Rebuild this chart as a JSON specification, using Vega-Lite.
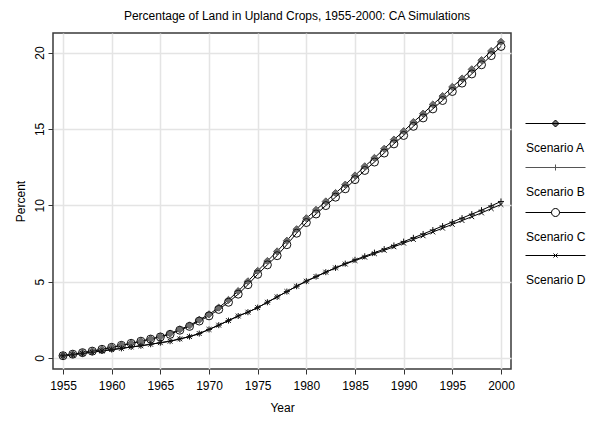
{
"$schema":"https://vega.github.io/schema/vega-lite/v6.json",
"width":458,"height":336,
"autosize":{"type":"none"},
"padding":{"left":53,"top":33,"right":90,"bottom":61},
"background":"white",
"config":{"font":"Liberation Sans","view":{"stroke":"#3a3a3a","strokeWidth":1.5}},
"title":{"text":"Percentage of Land in Upland Crops, 1955-2000: CA Simulations","fontSize":12,"fontWeight":"normal","font":"Liberation Sans","color":"#000","offset":10,"dx":15},
"data":{"values":[
{"year":1955,"scenario":"Scenario A","value":0.15},{"year":1956,"scenario":"Scenario A","value":0.25},{"year":1957,"scenario":"Scenario A","value":0.35},{"year":1958,"scenario":"Scenario A","value":0.45},{"year":1959,"scenario":"Scenario A","value":0.57},{"year":1960,"scenario":"Scenario A","value":0.7},{"year":1961,"scenario":"Scenario A","value":0.83},{"year":1962,"scenario":"Scenario A","value":0.96},{"year":1963,"scenario":"Scenario A","value":1.1},{"year":1964,"scenario":"Scenario A","value":1.24},{"year":1965,"scenario":"Scenario A","value":1.4},{"year":1966,"scenario":"Scenario A","value":1.6},{"year":1967,"scenario":"Scenario A","value":1.87},{"year":1968,"scenario":"Scenario A","value":2.13},{"year":1969,"scenario":"Scenario A","value":2.5},{"year":1970,"scenario":"Scenario A","value":2.86},{"year":1971,"scenario":"Scenario A","value":3.3},{"year":1972,"scenario":"Scenario A","value":3.8},{"year":1973,"scenario":"Scenario A","value":4.38},{"year":1974,"scenario":"Scenario A","value":5.02},{"year":1975,"scenario":"Scenario A","value":5.7},{"year":1976,"scenario":"Scenario A","value":6.35},{"year":1977,"scenario":"Scenario A","value":6.98},{"year":1978,"scenario":"Scenario A","value":7.68},{"year":1979,"scenario":"Scenario A","value":8.43},{"year":1980,"scenario":"Scenario A","value":9.15},{"year":1981,"scenario":"Scenario A","value":9.7},{"year":1982,"scenario":"Scenario A","value":10.25},{"year":1983,"scenario":"Scenario A","value":10.8},{"year":1984,"scenario":"Scenario A","value":11.35},{"year":1985,"scenario":"Scenario A","value":11.95},{"year":1986,"scenario":"Scenario A","value":12.55},{"year":1987,"scenario":"Scenario A","value":13.1},{"year":1988,"scenario":"Scenario A","value":13.7},{"year":1989,"scenario":"Scenario A","value":14.3},{"year":1990,"scenario":"Scenario A","value":14.85},{"year":1991,"scenario":"Scenario A","value":15.45},{"year":1992,"scenario":"Scenario A","value":16.0},{"year":1993,"scenario":"Scenario A","value":16.6},{"year":1994,"scenario":"Scenario A","value":17.15},{"year":1995,"scenario":"Scenario A","value":17.75},{"year":1996,"scenario":"Scenario A","value":18.3},{"year":1997,"scenario":"Scenario A","value":18.9},{"year":1998,"scenario":"Scenario A","value":19.5},{"year":1999,"scenario":"Scenario A","value":20.1},{"year":2000,"scenario":"Scenario A","value":20.7},
{"year":1955,"scenario":"Scenario B","value":0.15},{"year":1956,"scenario":"Scenario B","value":0.22},{"year":1957,"scenario":"Scenario B","value":0.3},{"year":1958,"scenario":"Scenario B","value":0.38},{"year":1959,"scenario":"Scenario B","value":0.46},{"year":1960,"scenario":"Scenario B","value":0.55},{"year":1961,"scenario":"Scenario B","value":0.63},{"year":1962,"scenario":"Scenario B","value":0.72},{"year":1963,"scenario":"Scenario B","value":0.8},{"year":1964,"scenario":"Scenario B","value":0.9},{"year":1965,"scenario":"Scenario B","value":1.0},{"year":1966,"scenario":"Scenario B","value":1.1},{"year":1967,"scenario":"Scenario B","value":1.25},{"year":1968,"scenario":"Scenario B","value":1.4},{"year":1969,"scenario":"Scenario B","value":1.6},{"year":1970,"scenario":"Scenario B","value":1.87},{"year":1971,"scenario":"Scenario B","value":2.15},{"year":1972,"scenario":"Scenario B","value":2.45},{"year":1973,"scenario":"Scenario B","value":2.75},{"year":1974,"scenario":"Scenario B","value":3.0},{"year":1975,"scenario":"Scenario B","value":3.3},{"year":1976,"scenario":"Scenario B","value":3.65},{"year":1977,"scenario":"Scenario B","value":4.0},{"year":1978,"scenario":"Scenario B","value":4.35},{"year":1979,"scenario":"Scenario B","value":4.7},{"year":1980,"scenario":"Scenario B","value":5.03},{"year":1981,"scenario":"Scenario B","value":5.33},{"year":1982,"scenario":"Scenario B","value":5.62},{"year":1983,"scenario":"Scenario B","value":5.9},{"year":1984,"scenario":"Scenario B","value":6.18},{"year":1985,"scenario":"Scenario B","value":6.43},{"year":1986,"scenario":"Scenario B","value":6.66},{"year":1987,"scenario":"Scenario B","value":6.9},{"year":1988,"scenario":"Scenario B","value":7.13},{"year":1989,"scenario":"Scenario B","value":7.37},{"year":1990,"scenario":"Scenario B","value":7.62},{"year":1991,"scenario":"Scenario B","value":7.87},{"year":1992,"scenario":"Scenario B","value":8.12},{"year":1993,"scenario":"Scenario B","value":8.38},{"year":1994,"scenario":"Scenario B","value":8.64},{"year":1995,"scenario":"Scenario B","value":8.9},{"year":1996,"scenario":"Scenario B","value":9.16},{"year":1997,"scenario":"Scenario B","value":9.42},{"year":1998,"scenario":"Scenario B","value":9.68},{"year":1999,"scenario":"Scenario B","value":9.96},{"year":2000,"scenario":"Scenario B","value":10.25},
{"year":1955,"scenario":"Scenario C","value":0.15},{"year":1956,"scenario":"Scenario C","value":0.25},{"year":1957,"scenario":"Scenario C","value":0.35},{"year":1958,"scenario":"Scenario C","value":0.45},{"year":1959,"scenario":"Scenario C","value":0.57},{"year":1960,"scenario":"Scenario C","value":0.7},{"year":1961,"scenario":"Scenario C","value":0.83},{"year":1962,"scenario":"Scenario C","value":0.96},{"year":1963,"scenario":"Scenario C","value":1.1},{"year":1964,"scenario":"Scenario C","value":1.24},{"year":1965,"scenario":"Scenario C","value":1.38},{"year":1966,"scenario":"Scenario C","value":1.55},{"year":1967,"scenario":"Scenario C","value":1.82},{"year":1968,"scenario":"Scenario C","value":2.07},{"year":1969,"scenario":"Scenario C","value":2.42},{"year":1970,"scenario":"Scenario C","value":2.76},{"year":1971,"scenario":"Scenario C","value":3.18},{"year":1972,"scenario":"Scenario C","value":3.65},{"year":1973,"scenario":"Scenario C","value":4.18},{"year":1974,"scenario":"Scenario C","value":4.8},{"year":1975,"scenario":"Scenario C","value":5.48},{"year":1976,"scenario":"Scenario C","value":6.1},{"year":1977,"scenario":"Scenario C","value":6.7},{"year":1978,"scenario":"Scenario C","value":7.42},{"year":1979,"scenario":"Scenario C","value":8.17},{"year":1980,"scenario":"Scenario C","value":8.87},{"year":1981,"scenario":"Scenario C","value":9.43},{"year":1982,"scenario":"Scenario C","value":9.98},{"year":1983,"scenario":"Scenario C","value":10.53},{"year":1984,"scenario":"Scenario C","value":11.08},{"year":1985,"scenario":"Scenario C","value":11.68},{"year":1986,"scenario":"Scenario C","value":12.28},{"year":1987,"scenario":"Scenario C","value":12.83},{"year":1988,"scenario":"Scenario C","value":13.42},{"year":1989,"scenario":"Scenario C","value":14.02},{"year":1990,"scenario":"Scenario C","value":14.57},{"year":1991,"scenario":"Scenario C","value":15.17},{"year":1992,"scenario":"Scenario C","value":15.72},{"year":1993,"scenario":"Scenario C","value":16.31},{"year":1994,"scenario":"Scenario C","value":16.86},{"year":1995,"scenario":"Scenario C","value":17.45},{"year":1996,"scenario":"Scenario C","value":18.0},{"year":1997,"scenario":"Scenario C","value":18.6},{"year":1998,"scenario":"Scenario C","value":19.2},{"year":1999,"scenario":"Scenario C","value":19.8},{"year":2000,"scenario":"Scenario C","value":20.4},
{"year":1955,"scenario":"Scenario D","value":0.15},{"year":1956,"scenario":"Scenario D","value":0.22},{"year":1957,"scenario":"Scenario D","value":0.3},{"year":1958,"scenario":"Scenario D","value":0.38},{"year":1959,"scenario":"Scenario D","value":0.46},{"year":1960,"scenario":"Scenario D","value":0.55},{"year":1961,"scenario":"Scenario D","value":0.63},{"year":1962,"scenario":"Scenario D","value":0.72},{"year":1963,"scenario":"Scenario D","value":0.8},{"year":1964,"scenario":"Scenario D","value":0.9},{"year":1965,"scenario":"Scenario D","value":1.0},{"year":1966,"scenario":"Scenario D","value":1.1},{"year":1967,"scenario":"Scenario D","value":1.25},{"year":1968,"scenario":"Scenario D","value":1.4},{"year":1969,"scenario":"Scenario D","value":1.6},{"year":1970,"scenario":"Scenario D","value":1.87},{"year":1971,"scenario":"Scenario D","value":2.15},{"year":1972,"scenario":"Scenario D","value":2.45},{"year":1973,"scenario":"Scenario D","value":2.75},{"year":1974,"scenario":"Scenario D","value":3.0},{"year":1975,"scenario":"Scenario D","value":3.3},{"year":1976,"scenario":"Scenario D","value":3.65},{"year":1977,"scenario":"Scenario D","value":4.0},{"year":1978,"scenario":"Scenario D","value":4.35},{"year":1979,"scenario":"Scenario D","value":4.7},{"year":1980,"scenario":"Scenario D","value":5.03},{"year":1981,"scenario":"Scenario D","value":5.33},{"year":1982,"scenario":"Scenario D","value":5.62},{"year":1983,"scenario":"Scenario D","value":5.9},{"year":1984,"scenario":"Scenario D","value":6.15},{"year":1985,"scenario":"Scenario D","value":6.38},{"year":1986,"scenario":"Scenario D","value":6.6},{"year":1987,"scenario":"Scenario D","value":6.83},{"year":1988,"scenario":"Scenario D","value":7.05},{"year":1989,"scenario":"Scenario D","value":7.28},{"year":1990,"scenario":"Scenario D","value":7.52},{"year":1991,"scenario":"Scenario D","value":7.76},{"year":1992,"scenario":"Scenario D","value":8.0},{"year":1993,"scenario":"Scenario D","value":8.25},{"year":1994,"scenario":"Scenario D","value":8.5},{"year":1995,"scenario":"Scenario D","value":8.75},{"year":1996,"scenario":"Scenario D","value":9.0},{"year":1997,"scenario":"Scenario D","value":9.25},{"year":1998,"scenario":"Scenario D","value":9.5},{"year":1999,"scenario":"Scenario D","value":9.78},{"year":2000,"scenario":"Scenario D","value":10.05}
]},
"encoding":{
"x":{"field":"year","type":"quantitative","scale":{"domain":[1953.97,2001.03],"nice":false,"zero":false},
 "axis":{"values":[1955,1960,1965,1970,1975,1980,1985,1990,1995,2000],"format":"d","title":"Year","titleFontSize":12,"titleFontWeight":"normal","titleColor":"#000","labelFontSize":12,"labelColor":"#000","tickSize":5,"tickColor":"#333","domain":false,"grid":true,"gridColor":"#e4e4e4","gridWidth":1.5,"labelPadding":6,"titlePadding":11,"labelFlush":false}},
"y":{"field":"value","type":"quantitative","scale":{"domain":[-0.72,21.28],"nice":false,"zero":false},
 "axis":{"values":[0,5,10,15,20],"title":"Percent","titleFontSize":12,"titleFontWeight":"normal","titleColor":"#000","labelFontSize":12,"labelColor":"#000","labelAngle":270,"labelAlign":"center","labelBaseline":"bottom","labelPadding":2,"tickSize":5,"tickColor":"#333","domain":false,"grid":true,"gridColor":"#e4e4e4","gridWidth":1.5,"titlePadding":6}}
},
"layer":[
{"mark":{"type":"line","stroke":"#000","strokeWidth":1},"encoding":{"detail":{"field":"scenario"}}},
{"mark":{"type":"point","size":64,"strokeWidth":1,"opacity":1},
 "encoding":{
  "shape":{"field":"scenario","scale":{"domain":["Scenario A","Scenario B","Scenario C","Scenario D"],"range":["M0,-0.9L0.9,0L0,0.9L-0.9,0Z","M-0.75,0H0.75M0,-0.75V0.75","circle","M-0.6,-0.6L0.6,0.6M-0.6,0.6L0.6,-0.6"]},"legend":null},
  "fill":{"field":"scenario","scale":{"domain":["Scenario A","Scenario B","Scenario C","Scenario D"],"range":["#6e6e6e","transparent","transparent","transparent"]},"legend":null},
  "stroke":{"field":"scenario","scale":{"domain":["Scenario A","Scenario B","Scenario C","Scenario D"],"range":["#5a5a5a","#111","#111","#111"]},"legend":null}
 }},
{"transform":[{"filter":"false"}],
 "mark":{"type":"point","size":1600,"strokeWidth":1,"opacity":1},
 "encoding":{
  "shape":{"field":"scenario","scale":{"domain":["Scenario A","Scenario B","Scenario C","Scenario D"],"range":["M-1,-0.95H2M0.5,-1.125L0.675,-0.95L0.5,-0.775L0.325,-0.95Z","M-1,-0.95H2M0.5,-1.1V-0.8","M-1,-0.95H0.3M0.7,-0.95H2M0.7,-0.95A0.2,0.2,0,1,1,0.3,-0.95A0.2,0.2,0,1,1,0.7,-0.95Z","M-1,-0.95H2M0.4,-1.05L0.6,-0.85M0.4,-0.85L0.6,-1.05"]},
   "legend":{"orient":"none","legendX":472,"legendY":89,"title":null,"symbolSize":1600,"symbolStrokeWidth":1,"labelOffset":-40,"labelBaseline":"top","labelFontSize":12,"labelColor":"#000","labelFont":"Liberation Sans","rowPadding":8,"padding":0}},
  "fill":{"field":"scenario","scale":{"domain":["Scenario A","Scenario B","Scenario C","Scenario D"],"range":["#707070","transparent","white","transparent"]},
   "legend":{"orient":"none","legendX":472,"legendY":89,"title":null,"symbolSize":1600,"symbolStrokeWidth":1,"labelOffset":-40,"labelBaseline":"top","labelFontSize":12,"labelColor":"#000","labelFont":"Liberation Sans","rowPadding":8,"padding":0}},
  "stroke":{"field":"scenario","scale":{"domain":["Scenario A","Scenario B","Scenario C","Scenario D"],"range":["#000","#555","#000","#000"]},
   "legend":{"orient":"none","legendX":472,"legendY":89,"title":null,"symbolSize":1600,"symbolStrokeWidth":1,"labelOffset":-40,"labelBaseline":"top","labelFontSize":12,"labelColor":"#000","labelFont":"Liberation Sans","rowPadding":8,"padding":0}}
 }}
],
"resolve":{"scale":{"shape":"independent","fill":"independent","stroke":"independent"}}
}
